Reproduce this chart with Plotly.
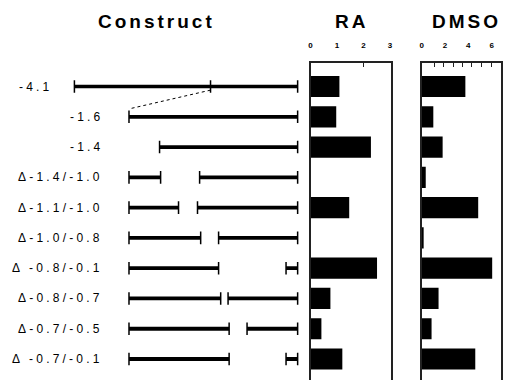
import plotly.graph_objects as go

# ---------------- data ----------------
row_labels = ["-4.1", "-1.6", "-1.4", "Δ-1.4/-1.0", "Δ-1.1/-1.0", "Δ-1.0/-0.8",
              "Δ -0.8/-0.1", "Δ-0.8/-0.7", "Δ-0.7/-0.5", "Δ -0.7/-0.1"]
ra_values = [1.09, 0.97, 2.28, 0.0, 1.46, 0.0, 2.51, 0.75, 0.41, 1.20]
dmso_values = [3.75, 1.00, 1.80, 0.35, 4.85, 0.10, 6.05, 1.45, 0.85, 4.60]

ra_ticks = [0, 1, 2, 3]
ra_marks = [2]
dmso_ticks = [0, 2, 4, 6]
dmso_marks = [1.1, 1.9, 2.7, 3.5, 4.3, 5.1, 6.0]

# full-length construct (kb), drawn on a compressed scale, with the -1.6 mark
full_construct = [-4.1, 0.0]
full_mark = -1.6
# remaining constructs: retained segments (schematic kb positions)
construct_segments = [
    [[-1.60, 0.0]],
    [[-1.31, 0.0]],
    [[-1.60, -1.30], [-0.93, 0.0]],
    [[-1.60, -1.13], [-0.95, 0.0]],
    [[-1.60, -0.92], [-0.75, 0.0]],
    [[-1.60, -0.75], [-0.11, 0.0]],
    [[-1.60, -0.73], [-0.66, 0.0]],
    [[-1.60, -0.65], [-0.48, 0.0]],
    [[-1.60, -0.65], [-0.11, 0.0]],
]

# ---------------- layout geometry ----------------
W, H = 506, 380
ROW0, PITCH = 86.5, 30.28          # pixel centre of first row and row pitch
S_DETAIL, S_FULL, ORIGIN = 106.25, 54.88, 298.0   # px per kb and x pixel of 0 kb
PANEL_TOP = 63
FONT = "Liberation Sans"

rows = list(range(len(row_labels)))

fig = go.Figure()

# full-length construct on its own compressed axis
fig.add_trace(go.Scatter(
    x=full_construct + [full_mark], y=[0, 0, 0], xaxis="x4", yaxis="y",
    mode="markers", marker=dict(symbol="line-ns", size=9, line=dict(width=1.5, color="black")),
    hoverinfo="skip", showlegend=False))
fig.add_trace(go.Scatter(
    x=full_construct, y=[0, 0], xaxis="x4", yaxis="y",
    mode="lines", line=dict(color="black", width=3.5), hoverinfo="skip", showlegend=False))

# dotted connector from the -1.6 mark to the start of the -1.6 construct
fig.add_trace(go.Scatter(
    x=[full_mark * S_FULL / S_DETAIL, construct_segments[0][0][0]], y=[0.12, 0.74],
    mode="lines", line=dict(color="black", width=1, dash="dot"),
    hoverinfo="skip", showlegend=False))

for i, segs in enumerate(construct_segments, start=1):
    xs, ys = [], []
    for a, b in segs:
        xs += [a, b, None]
        ys += [i, i, None]
    fig.add_trace(go.Scatter(
        x=xs, y=ys, mode="lines+markers",
        line=dict(color="black", width=3.8),
        marker=dict(symbol="line-ns", size=9, line=dict(width=1.5, color="black")),
        hoverinfo="skip", showlegend=False))

fig.add_trace(go.Bar(x=ra_values, y=rows, orientation="h", xaxis="x2", yaxis="y2",
                     marker=dict(color="black", line=dict(width=0)), width=0.7, showlegend=False))
fig.add_trace(go.Bar(x=dmso_values, y=rows, orientation="h", xaxis="x3", yaxis="y3",
                     marker=dict(color="black", line=dict(width=0)), width=0.7, showlegend=False))

# row labels
for i, lab in enumerate(row_labels):
    txt = '<span style="letter-spacing:3.2px">%s</span>' % lab
    if i == 0:
        fig.add_annotation(x=15 / W, y=i, xref="paper", yref="y", text=txt, showarrow=False,
                           xanchor="left", yanchor="middle", font=dict(family=FONT, size=12, color="black"))
    else:
        fig.add_annotation(x=104 / W, y=i, xref="paper", yref="y", text=txt, showarrow=False,
                           xanchor="right", yanchor="middle", font=dict(family=FONT, size=12, color="black"))

# titles
for t, cx in [("Construct", 156), ("RA", 352), ("DMSO", 468)]:
    fig.add_annotation(x=cx / W, y=1 - 22 / H, xref="paper", yref="paper",
                       text='<span style="letter-spacing:3px"><b>%s</b></span>' % t, showarrow=False,
                       xanchor="center", yanchor="middle",
                       font=dict(family=FONT, size=19, color="black"))

y_range_main = [(H - ROW0) / PITCH, -ROW0 / PITCH]
y_range_panel = [(H - ROW0) / PITCH, (PANEL_TOP - ROW0) / PITCH]
panel_dom = [0, (H - PANEL_TOP) / H]
tickfont = dict(family=FONT, size=8, color="black", weight="bold")

hidden = dict(visible=False, showgrid=False, zeroline=False)
fig.update_layout(
    width=W, height=H, margin=dict(l=0, r=0, t=0, b=0),
    paper_bgcolor="white", plot_bgcolor="white", bargap=0.3,
    xaxis=dict(domain=[0, 310 / W], range=[-ORIGIN / S_DETAIL, (310 - ORIGIN) / S_DETAIL], **hidden),
    xaxis4=dict(domain=[0, 310 / W], range=[-ORIGIN / S_FULL, (310 - ORIGIN) / S_FULL],
                overlaying="x", anchor="y", **hidden),
    yaxis=dict(domain=[0, 1], range=y_range_main, **hidden),
    xaxis2=dict(domain=[311 / W, 392 / W], range=[0, 81 / 26.7], anchor="y2", side="top",
                showline=True, linecolor="#222", linewidth=1.5, mirror=False,
                showgrid=False, zeroline=False, ticks="", tickvals=ra_ticks,
                ticktext=[str(v) for v in ra_ticks], tickfont=tickfont, ticklabelstandoff=10,
                minor=dict(tickvals=ra_marks, ticks="inside", ticklen=4, tickcolor="#222", tickwidth=1, showgrid=False)),
    yaxis2=dict(domain=panel_dom, range=y_range_panel, anchor="x2",
                showline=True, linecolor="#222", linewidth=1.5, mirror=True,
                showgrid=False, zeroline=False, showticklabels=False, ticks=""),
    xaxis3=dict(domain=[423 / W, 503 / W], range=[0, 80 / 11.75], anchor="y3", side="top",
                showline=True, linecolor="#222", linewidth=1.5, mirror=False,
                showgrid=False, zeroline=False, ticks="", tickvals=dmso_ticks,
                ticktext=[str(v) for v in dmso_ticks], tickfont=tickfont, ticklabelstandoff=10,
                minor=dict(tickvals=dmso_marks, ticks="inside", ticklen=4, tickcolor="#222", tickwidth=1, showgrid=False)),
    yaxis3=dict(domain=panel_dom, range=y_range_panel, anchor="x3",
                showline=True, linecolor="#222", linewidth=1.5, mirror=True,
                showgrid=False, zeroline=False, showticklabels=False, ticks=""),
)

fig.write_html("out.html", config={"displayModeBar": False},
               post_script="document.body.style.margin='0px';document.body.style.overflow='hidden';")
